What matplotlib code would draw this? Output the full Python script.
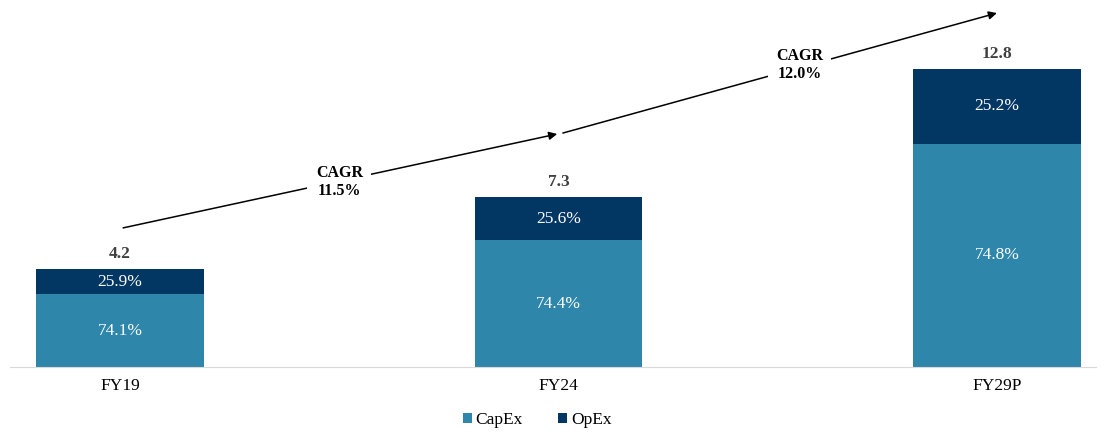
import matplotlib.pyplot as plt
from matplotlib.patches import Patch

plt.rcParams['font.family'] = ['Liberation Serif', 'DejaVu Serif']

years = ['FY19', 'FY24', 'FY29P']
totals = [4.2, 7.3, 12.8]
capex_pct = [74.1, 74.4, 74.8]
opex_pct = [25.9, 25.6, 25.2]
cagr_labels = ['CAGR\n11.5%', 'CAGR\n12.0%']

capex_color = '#2E86AB'
opex_color = '#023764'

capex = [t * c / 100 for t, c in zip(totals, capex_pct)]
opex = [t * o / 100 for t, o in zip(totals, opex_pct)]
x = list(range(len(years)))

fig = plt.figure(figsize=(11.06, 4.32), dpi=100)
ax = fig.add_axes([10 / 1106, 65 / 432, 1086 / 1106, 367 / 432])

width = 0.383
ax.bar(x, capex, width, color=capex_color, label='CapEx')
ax.bar(x, opex, width, bottom=capex, color=opex_color, label='OpEx')

for i in x:
    ax.text(i, capex[i] / 2, f'{capex_pct[i]:.1f}%', ha='center', va='center',
            color='white', fontsize=12.5)
    ax.text(i, capex[i] + opex[i] / 2, f'{opex_pct[i]:.1f}%', ha='center', va='center',
            color='white', fontsize=12.5)
    ax.text(i, totals[i] + 0.65, f'{totals[i]:.1f}', ha='center', va='center',
            color='#404040', fontsize=12.5, fontweight='bold')

# CAGR arrows, label sits on the line with a white box breaking it
arrows = [((0.007, 5.97), (0.997, 10.0)), ((1.01, 10.04), (2.0, 15.19))]
label_pos = [(0.50, 7.95), (1.55, 12.95)]
for (start, end), lab, pos in zip(arrows, cagr_labels, label_pos):
    ax.annotate('', xy=end, xytext=start,
                arrowprops=dict(arrowstyle='-|>', color='black', lw=1.1,
                                mutation_scale=12, shrinkA=0, shrinkB=0))
    ax.text(pos[0], pos[1], lab, ha='center', va='center', fontsize=11.5,
            fontweight='bold', linespacing=1.15,
            bbox=dict(facecolor='white', edgecolor='none', pad=6))

ax.set_xlim(-0.251, 2.226)
ax.set_ylim(0, 15.75)
ax.set_xticks(x)
ax.set_xticklabels(years, fontsize=12.5)
ax.tick_params(axis='x', length=0, pad=8)
ax.set_yticks([])
for s in ['top', 'right', 'left']:
    ax.spines[s].set_visible(False)
ax.spines['bottom'].set_color('#d9d9d9')

handles = [Patch(facecolor=capex_color, label='CapEx'),
           Patch(facecolor=opex_color, label='OpEx')]
fig.legend(handles=handles, loc='center', bbox_to_anchor=(537 / 1106, 1 - 420 / 432),
           ncol=2, frameon=False, fontsize=12.5, handlelength=0.55, handleheight=0.55,
           handletextpad=0.2, columnspacing=2.0)

fig.savefig('out.png', dpi=100)
